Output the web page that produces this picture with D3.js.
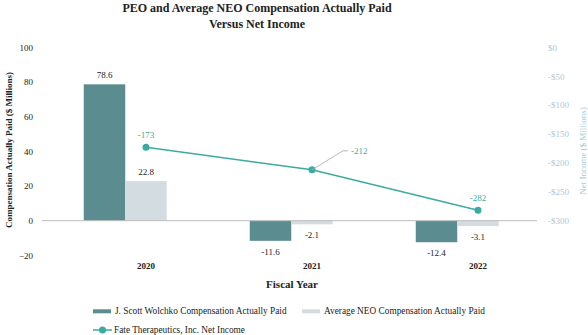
<!DOCTYPE html>
<html><head><meta charset="utf-8">
<script src="https://cdn.jsdelivr.net/npm/d3@7"></script>
<style>body{margin:0;background:#fff}svg{display:block}svg text{font-family:'Liberation Serif','Times New Roman',serif !important}</style>
</head><body><svg id="c" width="588" height="335" font-family="Liberation Serif, serif"></svg>
<script>
const years = ["2020","2021","2022"];
const peoValues = [78.6, -11.6, -12.4];
const neoValues = [22.8, -2.1, -3.1];
const netIncome = [-173, -212, -282];
const leftTicks = [100, 80, 60, 40, 20, 0, -20];
const rightTicks = [0, -50, -100, -150, -200, -250, -300];
const seriesNames = ["J. Scott Wolchko Compensation Actually Paid", "Average NEO Compensation Actually Paid", "Fate Therapeutics, Inc. Net Income"];

const cDark = "#5a8c90", cLight = "#d3dde1", cLine = "#3aaba2", cRight = "#a9c9d6", cText = "#222";
const svg = d3.select("#c");

const x = d3.scaleBand().domain(years).range([63, 561]).padding(0);
const yL = d3.scaleLinear().domain([-20, 100]).range([255.4, 47.2]);
const yR = d3.scaleLinear().domain([-360, 0]).range([255.4, 47.2]);
const bw = 41.5;
const cx = d => x(d) + x.bandwidth() / 2;

// title
svg.append("text").attr("x", 257).attr("y", 11.5).attr("text-anchor", "middle")
  .attr("font-size", 12).attr("font-weight", "bold").attr("fill", cText).text("PEO and Average NEO Compensation Actually Paid");
svg.append("text").attr("x", 257).attr("y", 27.5).attr("text-anchor", "middle")
  .attr("font-size", 12).attr("font-weight", "bold").attr("fill", cText).text("Versus Net Income");

// left axis
const la = svg.append("g").attr("transform", "translate(33,0)")
  .call(d3.axisLeft(yL).tickValues(leftTicks).tickSize(0).tickPadding(0).tickFormat(d3.format("d")));
la.attr("font-family", null);
la.select(".domain").remove();
la.selectAll("text").attr("font-size", 9).attr("fill", cText);

// right axis
const ra = svg.append("g").attr("transform", "translate(548,0)")
  .call(d3.axisRight(yR).tickValues(rightTicks).tickSize(0).tickPadding(0)
    .tickFormat(d => (d < 0 ? "-$" : "$") + Math.abs(d)));
ra.attr("font-family", null);
ra.select(".domain").remove();
ra.selectAll("text").attr("font-size", 9).attr("fill", cRight);

// axis titles
svg.append("text").attr("transform", "translate(12,150) rotate(-90)").attr("text-anchor", "middle")
  .attr("font-size", 9).attr("font-weight", "bold").attr("fill", cText).text("Compensation Actually Paid ($ Millions)");
svg.append("text").attr("transform", "translate(586,151) rotate(-90)").attr("text-anchor", "middle")
  .attr("font-size", 9).attr("fill", cRight).text("Net Income ($ Millions)");

// bars
const g = svg.append("g");
g.selectAll("rect.peo").data(years).join("rect").attr("class", "peo")
  .attr("x", d => cx(d) - 1.5 * bw).attr("width", bw)
  .attr("y", (d, i) => Math.min(yL(peoValues[i]), yL(0)))
  .attr("height", (d, i) => Math.abs(yL(peoValues[i]) - yL(0)))
  .attr("fill", cDark);
g.selectAll("rect.neo").data(years).join("rect").attr("class", "neo")
  .attr("x", d => cx(d) - 0.5 * bw).attr("width", bw)
  .attr("y", (d, i) => Math.min(yL(neoValues[i]), yL(0)))
  .attr("height", (d, i) => Math.abs(yL(neoValues[i]) - yL(0)))
  .attr("fill", cLight);

// zero line
svg.append("line").attr("x1", 42).attr("x2", 537).attr("y1", yL(0)).attr("y2", yL(0))
  .attr("stroke", "#bdbdbd").attr("stroke-width", 1);

// bar labels
const lbl = (v) => v.toFixed(1);
g.selectAll("text.peo").data(years).join("text").attr("class", "peo")
  .attr("x", d => cx(d) - bw).attr("text-anchor", "middle").attr("font-size", 9).attr("fill", cText)
  .attr("y", (d, i) => peoValues[i] >= 0 ? yL(peoValues[i]) - 6 : yL(peoValues[i]) + 14)
  .text((d, i) => lbl(peoValues[i]));
g.selectAll("text.neo").data(years).join("text").attr("class", "neo")
  .attr("x", d => cx(d)).attr("text-anchor", "middle").attr("font-size", 9).attr("fill", cText)
  .attr("y", (d, i) => neoValues[i] >= 0 ? yL(neoValues[i]) - 6 : yL(neoValues[i]) + 14)
  .text((d, i) => lbl(neoValues[i]));

// line
const line = d3.line().x((d, i) => cx(years[i])).y(d => yR(d));
svg.append("path").datum(netIncome).attr("d", line).attr("fill", "none")
  .attr("stroke", cLine).attr("stroke-width", 1.5);
svg.selectAll("circle.pt").data(netIncome).join("circle").attr("class", "pt")
  .attr("cx", (d, i) => cx(years[i])).attr("cy", d => yR(d)).attr("r", 3.5).attr("fill", cLine);

// line labels
netIncome.forEach((v, i) => {
  const px = cx(years[i]), py = yR(v);
  if (i === 1) {
    svg.append("polyline").attr("points", `${px},${py} ${px + 31},${py - 19} ${px + 36},${py - 19}`)
      .attr("fill", "none").attr("stroke", "#a6a6a6").attr("stroke-width", 0.8);
    svg.append("text").attr("x", px + 39).attr("y", py - 16).attr("font-size", 9).attr("fill", cLine).text(v);
  } else {
    svg.append("text").attr("x", px).attr("y", py - 9).attr("text-anchor", "middle")
      .attr("font-size", 9).attr("fill", cLine).text(v);
  }
});

// x labels
svg.selectAll("text.xl").data(years).join("text").attr("class", "xl")
  .attr("x", d => cx(d)).attr("y", 269).attr("text-anchor", "middle")
  .attr("font-size", 9).attr("font-weight", "bold").attr("fill", cText).text(d => d);
svg.append("text").attr("x", 292).attr("y", 288).attr("text-anchor", "middle")
  .attr("font-size", 11).attr("font-weight", "bold").attr("fill", cText).text("Fiscal Year");

// legend
const lg = svg.append("g");
lg.append("rect").attr("x", 93).attr("y", 309.3).attr("width", 18).attr("height", 4).attr("fill", cDark);
lg.append("text").attr("x", 115).attr("y", 314).attr("font-size", 9.3).attr("fill", cText).text(seriesNames[0]);
lg.append("rect").attr("x", 302).attr("y", 309.3).attr("width", 18).attr("height", 4).attr("fill", cLight);
lg.append("text").attr("x", 324).attr("y", 314).attr("font-size", 9.3).attr("fill", cText).text(seriesNames[1]);
lg.append("line").attr("x1", 93).attr("x2", 112).attr("y1", 330).attr("y2", 330).attr("stroke", cLine).attr("stroke-width", 1.5);
lg.append("circle").attr("cx", 102.5).attr("cy", 330).attr("r", 3.5).attr("fill", cLine);
lg.append("text").attr("x", 114).attr("y", 333).attr("font-size", 9.3).attr("fill", cText).text(seriesNames[2]);
</script></body></html>
